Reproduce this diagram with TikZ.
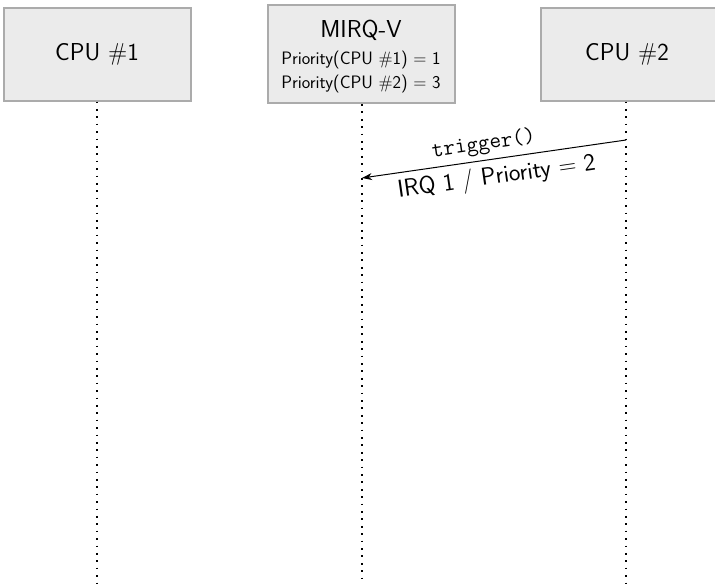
\documentclass[tikz,border=0pt]{standalone}
\usepackage{fontspec}
\usetikzlibrary{arrows.meta}
\definecolor{boxline}{HTML}{ABABAB}
\definecolor{boxfill}{HTML}{EBEBEB}
\tikzset{
  box/.style={draw=boxline, fill=boxfill, line width=2pt, minimum width=187pt,
              minimum height=93pt, inner sep=0pt},
  big/.style={font=\sffamily\fontsize{24.5}{28}\selectfont},
  small/.style={font=\sffamily\fontsize{18}{21}\selectfont},
  lifeline/.style={line width=1.7pt, dash pattern=on 1.7pt off 5.7pt},
  msg/.style={{Stealth[length=10pt,width=7pt]}-, line width=1pt},
}
\begin{document}
\begin{tikzpicture}[x=1pt,y=-1pt]
  \clip (0,0) rectangle (715,584);
  \useasboundingbox (0,0) rectangle (715,584);

  % participants
  \node[box, big] (cpu1) at (97,54) {CPU \#1};
  \node[box, minimum height=98pt] (mirq) at (361,54) {};
  \node[big, anchor=base] (mirqtitle) at (361,37) {MIRQ-V};
  \node[small, anchor=base] (prio1) at (361,64) {Priority(CPU \#1) = 1};
  \node[small, anchor=base] (prio2) at (361,88) {Priority(CPU \#2) = 3};
  \node[box, big] (cpu2) at (634,54) {};
  \node[big] (cpu2label) at (627,54) {CPU \#2};

  % lifeline ends
  \coordinate (end1) at (97,590);
  \coordinate (endm) at (362,590);
  \coordinate (end2) at (626,590);
  \draw[lifeline] (cpu1.south -| end1) -- (end1);
  \draw[lifeline] (mirq.south -| endm) -- (endm);
  \draw[lifeline] (cpu2.south -| end2) -- (end2);

  % message from CPU #2 to the interrupt controller
  \coordinate (msgto) at (362,178);
  \coordinate (msgfrom) at (626,140);
  \draw[msg] (msgto) -- node[sloped, above, inner sep=5pt, pos=0.47,
      font=\ttfamily\fontsize{22.5}{26}\selectfont] (trig) {trigger()}
    node[sloped, below, inner sep=6pt, pos=0.5, big] (irq) {IRQ 1 / Priority = 2} (msgfrom);
\end{tikzpicture}
\end{document}
